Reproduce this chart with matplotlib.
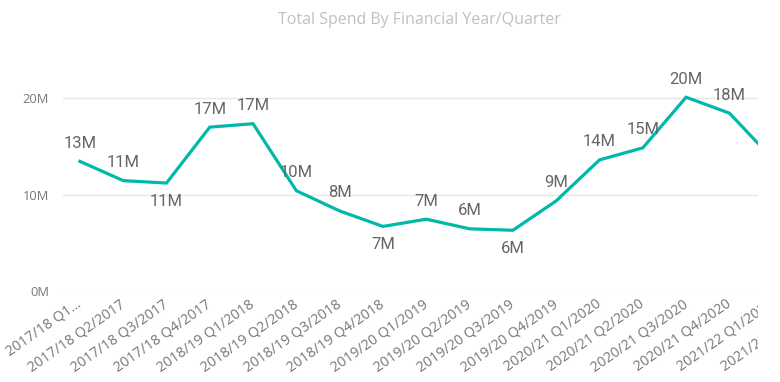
import numpy as np
import matplotlib.pyplot as plt
from matplotlib.transforms import Bbox, TransformedBbox

# quarters shown on the category axis (first label is truncated in the original)
quarters = ['2017/18 Q1...', '2017/18 Q2/2017', '2017/18 Q3/2017', '2017/18 Q4/2017',
            '2018/19 Q1/2018', '2018/19 Q2/2018', '2018/19 Q3/2018', '2018/19 Q4/2018',
            '2019/20 Q1/2019', '2019/20 Q2/2019', '2019/20 Q3/2019', '2019/20 Q4/2019',
            '2020/21 Q1/2020', '2020/21 Q2/2020', '2020/21 Q3/2020', '2020/21 Q4/2020',
            '2021/22 Q1/2021', '2021/22 Q2/2021']

# total spend in millions
spend = [13.45, 11.45, 11.2, 17.0, 17.35, 10.4, 8.3, 6.7, 7.45, 6.45, 6.3, 9.35,
         13.6, 14.85, 20.1, 18.45, 13.7, 12.5]

# where Power BI put each data label
label_side = ['up', 'up', 'down', 'up', 'up', 'up', 'up', 'down', 'up', 'up', 'down', 'up',
              'up', 'up', 'up', 'up', 'up', 'up']

yticks = [0, 10, 20]

teal = '#01B8AA'
grey_label = '#666666'
grey_tick = '#777777'

fig = plt.figure(figsize=(7.8, 3.82), dpi=100)
ax = fig.add_axes([63 / 780, 1 - 291 / 382, 695 / 780, 241 / 382])

x = np.arange(len(quarters))
ax.plot(x, spend, color=teal, linewidth=2.3, solid_joinstyle='miter', zorder=3)

xmin, xmax = -0.39, 15.66
ax.set_xlim(xmin, xmax)
ax.set_ylim(0, 25)

ax.set_yticks(yticks)
ax.set_yticklabels([f'{t}M' for t in yticks], fontsize=9.3, color=grey_tick, family='Open Sans')
ax.tick_params(axis='y', length=0, pad=10)
ax.grid(axis='y', color='#E6E6E6', linewidth=1)
ax.set_axisbelow(True)
for s in ax.spines.values():
    s.set_visible(False)

# the visual is cut off at the right edge of the plot area
visual_clip = TransformedBbox(Bbox.from_extents(0, 0, 758 / 780, 1), fig.transFigure)

# category labels, drawn by hand so the clipped ones at the right edge still show
ax.set_xticks([])
for i, q in enumerate(quarters):
    t = ax.annotate(q, xy=(i, 0), xycoords='data', xytext=(-3, -4), textcoords='offset points',
                    rotation=35, rotation_mode='anchor', ha='right', va='top',
                    fontsize=10.3, color=grey_tick, family='Open Sans', annotation_clip=False)
    t.set_clip_box(visual_clip)
    t.set_clip_on(True)

# data labels
for i, v in enumerate(spend):
    if i > xmax:
        continue
    dy = 13 if label_side[i] == 'up' else -13
    ax.annotate(f'{round(v)}M', xy=(i, v), xytext=(0, dy), textcoords='offset points',
                ha='center', va='center', fontsize=12, color=grey_label, family='Roboto')

fig.text(419 / 780, 1 - 20 / 382, 'Total Spend By Financial Year/Quarter', ha='center', va='center',
         fontsize=11.5, color='#C0C0C0', family='Open Sans')

fig.savefig('out.png', dpi=100)
